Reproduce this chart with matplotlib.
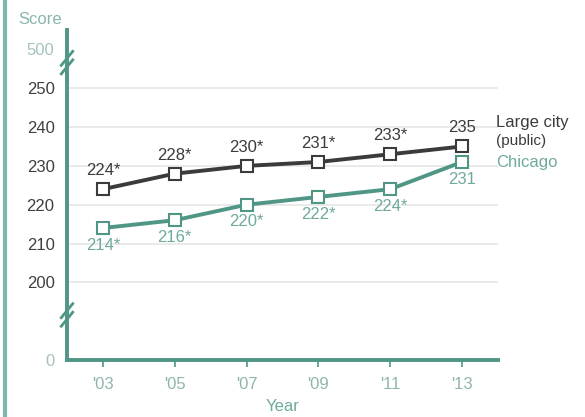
import matplotlib
matplotlib.use("Agg")
import matplotlib.pyplot as plt
from matplotlib.lines import Line2D

plt.rcParams['font.family'] = ['Liberation Sans', 'DejaVu Sans']

years = ["'03", "'05", "'07", "'09", "'11", "'13"]
large_city = [224, 228, 230, 231, 233, 235]
chicago = [214, 216, 220, 222, 224, 231]
large_labels = ["224*", "228*", "230*", "231*", "233*", "235"]
chicago_labels = ["214*", "216*", "220*", "222*", "224*", "231"]

# Broken y scale: 0 drawn at 180, 500 drawn at 260
grid_ticks = [200, 210, 220, 230, 240, 250]
zero_pos, top_pos = 180, 260

TEAL = "#4f9687"
TEAL_LIGHT = "#6fa99d"
DARK = "#3b3b3b"
GRID = "#e6e6e6"
FS = 12

fig = plt.figure(figsize=(5.85, 4.17), dpi=100)
ax = fig.add_axes([67 / 585, 1 - 360 / 417, (498 - 67) / 585, (360 - 30) / 417])
ax.set_ylim(zero_pos, 265)
ax.set_xlim(-0.5, 5.5)

x = list(range(len(years)))
for g in grid_ticks:
    ax.axhline(g, color=GRID, lw=1.2, zorder=0)

ax.plot(x, large_city, color=DARK, lw=2.8, marker='s', ms=8,
        mfc='white', mec=DARK, mew=1.5, zorder=3)
ax.plot(x, chicago, color=TEAL, lw=2.8, marker='s', ms=8,
        mfc='white', mec=TEAL, mew=1.5, zorder=3)

for xi, v, t in zip(x, large_city, large_labels):
    ax.annotate(t, (xi, v), xytext=(0, 8), textcoords='offset points',
                ha='center', va='bottom', fontsize=FS, color=DARK)
for xi, v, t in zip(x, chicago, chicago_labels):
    ax.annotate(t, (xi, v), xytext=(0, -7), textcoords='offset points',
                ha='center', va='top', fontsize=FS, color=TEAL_LIGHT)

# Series names at the right end
ax.text(5.47, 241.2, "Large city", ha='left', va='center', fontsize=FS,
        color=DARK, clip_on=False)
ax.text(5.47, 236.3, "(public)", ha='left', va='center', fontsize=11,
        color=DARK, clip_on=False)
ax.text(5.47, 230.8, "Chicago", ha='left', va='center', fontsize=FS,
        color=TEAL_LIGHT, clip_on=False)

# Axes styling
for s in ['top', 'right']:
    ax.spines[s].set_visible(False)
for s in ['left', 'bottom']:
    ax.spines[s].set_color(TEAL)
    ax.spines[s].set_linewidth(2.8)

ax.set_yticks([zero_pos] + grid_ticks + [top_pos])
ax.set_yticklabels(["0"] + [str(g) for g in grid_ticks] + ["500"], fontsize=FS)
ax.tick_params(axis='y', length=0, pad=9)
for lbl in ax.get_yticklabels():
    if lbl.get_text() in ("0", "500"):
        lbl.set_color("#a3c4bd")
    else:
        lbl.set_color("#3f3f3f")

ax.set_xticks(x)
ax.set_xticklabels(years, fontsize=FS, color="#8fb5ad")
ax.tick_params(axis='x', length=5, width=1.2, color=TEAL, pad=7)

ax.set_xlabel("Year", fontsize=FS, color=TEAL_LIGHT, labelpad=5)
ax.text(-0.063, 1.01, "Score", transform=ax.transAxes, ha='center', va='bottom',
        fontsize=FS, color="#8ab5ad", clip_on=False)

# Axis-break marks
for yb in (256.6, 191.6):
    for dy in (-1.1, 1.1):
        y0 = yb + dy
        ax.plot([-0.58, -0.42], [y0 - 1.8, y0 + 1.8], color=TEAL,
                lw=2.0, clip_on=False, zorder=5)

# Panel edge on the left
fig.add_artist(Line2D([5 / 585, 5 / 585], [0, 1], color="#7fb8ad", lw=3,
                      transform=fig.transFigure))

fig.savefig("out.png", dpi=100)
